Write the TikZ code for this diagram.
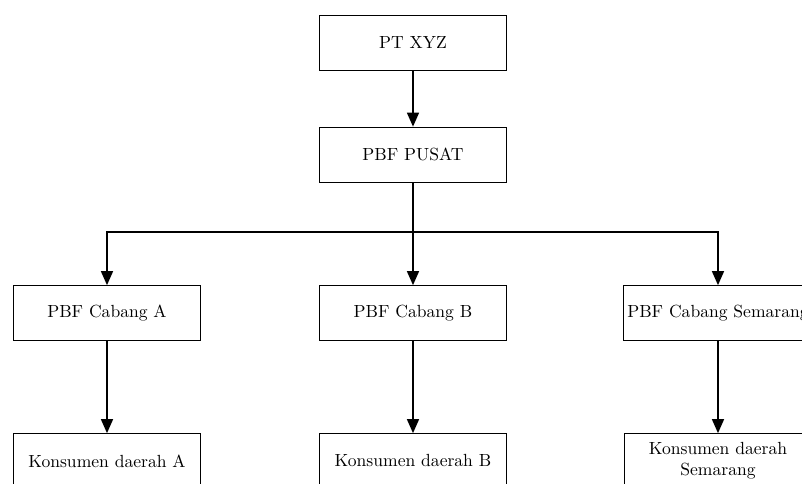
\documentclass[tikz,border=0pt]{standalone}
\usepackage{tikz}
\usetikzlibrary{arrows.meta,positioning}

\begin{document}
\begin{tikzpicture}[
            box/.style={draw,thin,minimum width=3.74cm,minimum height=1.1cm,inner sep=2pt,align=center},
            tip/.style={-{Triangle[length=0.28cm,width=0.24cm]}}
        ]
            \useasboundingbox (0,0) rectangle (16.04,-9.68);

            \node[box]   (pt)     at (8.26,-0.85) {PT XYZ};
            \node[box]   (pusat)  at (8.26,-3.09) {PBF PUSAT};

            \node[box]   (ca)     at (2.14,-6.26) {PBF Cabang A};
            \node[box]   (cb)     at (8.26,-6.26) {PBF Cabang B};
            \node[box]   (cs)     at (14.36,-6.26) {PBF Cabang Semarang};

            \node[box]   (ka)     at (2.14,-9.22) {Konsumen daerah A};
            \node[box]   (kb)     at (8.26,-9.22) {Konsumen daerah B};
            \node[box]   (ks)     at (14.36,-9.22) {Konsumen daerah\\Semarang};

            \coordinate (split) at (8.26,-4.64);

            \begin{scope}[thick]
                \draw[tip] (pt)    -- (pusat);
                \draw      (pusat) -- (split);
                \draw[tip] (split) -| (ca);
                \draw[tip] (split) -- (cb);
                \draw[tip] (split) -| (cs);
                \draw[tip] (ca)    -- (ka);
                \draw[tip] (cb)    -- (kb);
                \draw[tip] (cs)    -- (ks);
            \end{scope}
        \end{tikzpicture}
\end{document}
